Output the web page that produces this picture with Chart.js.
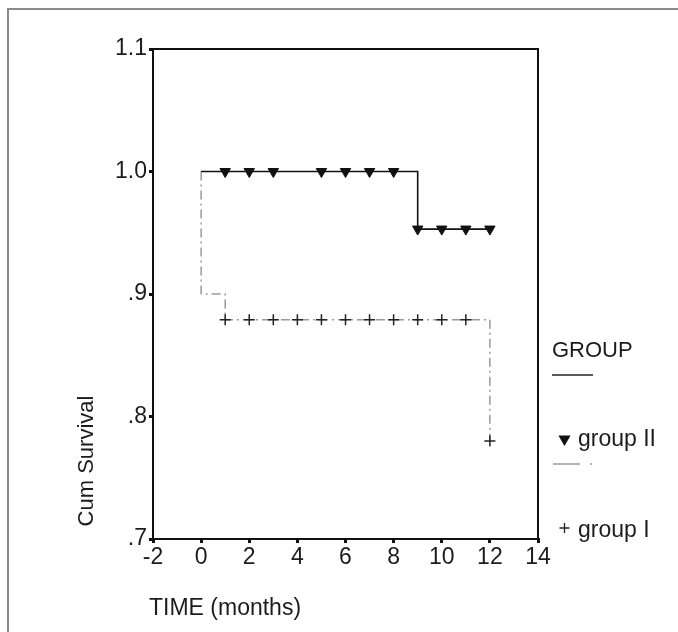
<!DOCTYPE html>
<html><head><meta charset="utf-8">
<script src="https://cdn.jsdelivr.net/npm/chart.js@4/dist/chart.umd.min.js"></script>
<style>html,body{margin:0;padding:0;background:#fff;}#wrap{position:relative;width:678px;height:632px;}</style>
</head><body><div id="wrap"><canvas id="c" width="678" height="632"></canvas></div>
<script>
// ---- data ----
const xTicks = [-2, 0, 2, 4, 6, 8, 10, 12, 14];
const yTicks = [0.7, 0.8, 0.9, 1.0, 1.1];
const groupIITime = [0, 9, 12];
const groupIISurv = [1.0, 0.953, 0.953];
const groupITime = [0, 0, 1, 12];
const groupISurv = [1.0, 0.9, 0.879, 0.78];
const groupIICensTime = [1, 2, 3, 5, 6, 7, 8, 9, 10, 11, 12];
const groupIICensSurv = [1.0, 1.0, 1.0, 1.0, 1.0, 1.0, 1.0, 0.953, 0.953, 0.953, 0.953];
const groupICensTime = [1, 2, 3, 4, 5, 6, 7, 8, 9, 10, 11, 12];
const groupICensSurv = [0.879, 0.879, 0.879, 0.879, 0.879, 0.879, 0.879, 0.879, 0.879, 0.879, 0.879, 0.78];
const legendTitle = 'GROUP';
const seriesNames = ['group II', 'group I'];
const xTitle = 'TIME (months)';
const yTitle = 'Cum Survival';

const FONT = '"Liberation Sans Narrow", "Liberation Sans", Arial, sans-serif';
const TXT = '#1c1c1c';
const pts = (xs, ys) => xs.map((x, i) => ({x: x, y: ys[i]}));

const decor = {
  id: 'decor',
  beforeDraw(chart) {
    const ctx = chart.ctx;
    ctx.save();
    ctx.fillStyle = '#fff';
    ctx.fillRect(0, 0, chart.width, chart.height);
    ctx.strokeStyle = '#8a8a8a';
    ctx.lineWidth = 2;
    ctx.strokeRect(8, 9, 700, 700);
    ctx.restore();
  },
  afterDraw(chart) {
    const ctx = chart.ctx, a = chart.chartArea;
    ctx.save();
    // plot frame (top & right)
    ctx.strokeStyle = '#111';
    ctx.lineWidth = 2;
    ctx.beginPath();
    ctx.moveTo(a.left, a.top); ctx.lineTo(a.right, a.top); ctx.lineTo(a.right, a.bottom);
    ctx.stroke();
    // axis titles
    ctx.fillStyle = TXT;
    ctx.font = '23px ' + FONT;
    ctx.textAlign = 'left'; ctx.textBaseline = 'alphabetic';
    ctx.fillText(xTitle, 149, 615);
    ctx.save();
    ctx.translate(93, 461);
    ctx.rotate(-Math.PI / 2);
    ctx.textAlign = 'center';
    ctx.font = '22px ' + FONT;
    ctx.fillText(yTitle, 0, 0);
    ctx.restore();
    // legend
    ctx.font = '22px ' + FONT;
    ctx.fillText(legendTitle, 552, 357);
    ctx.strokeStyle = '#222'; ctx.lineWidth = 1.5;
    ctx.beginPath(); ctx.moveTo(552, 375); ctx.lineTo(593, 375); ctx.stroke();
    ctx.fillStyle = '#111'; ctx.strokeStyle = '#111';
    Chart.helpers.drawPoint(ctx, {pointStyle: 'triangle', rotation: 180, radius: 5.5, borderWidth: 1}, 564.5, 439);
    ctx.fillStyle = TXT;
    ctx.font = '23px ' + FONT;
    ctx.fillText(seriesNames[0], 578, 446);
    ctx.strokeStyle = '#9a9a9a'; ctx.lineWidth = 1.5;
    ctx.setLineDash([27, 10, 2, 10]);
    ctx.beginPath(); ctx.moveTo(553, 464); ctx.lineTo(593, 464); ctx.stroke();
    ctx.setLineDash([]);
    ctx.strokeStyle = '#222'; ctx.lineWidth = 1.3;
    Chart.helpers.drawPoint(ctx, {pointStyle: 'cross', radius: 5, borderWidth: 1.3}, 564.5, 528);
    ctx.fillStyle = TXT;
    ctx.fillText(seriesNames[1], 578, 537);
    ctx.restore();
  }
};

const fmtY = v => { const s = Number(v).toFixed(1); return s.startsWith('0') ? s.slice(1) : s; };

new Chart(document.getElementById('c'), {
  type: 'scatter',
  data: {
    datasets: [
      {label: seriesNames[0] + ' censored', data: pts(groupIICensTime, groupIICensSurv), showLine: false,
       pointStyle: 'triangle', rotation: 180, pointRadius: 6, pointBackgroundColor: '#111', pointBorderColor: '#111', order: 0},
      {label: seriesNames[1] + ' censored', data: pts(groupICensTime, groupICensSurv), showLine: false,
       pointStyle: 'cross', pointRadius: 5.5, pointBorderWidth: 1.5, pointBorderColor: '#222', order: 0},
      {label: seriesNames[0], data: pts(groupIITime, groupIISurv), showLine: true, stepped: true,
       borderColor: '#111', borderWidth: 1.6, pointRadius: 0, order: 1},
      {label: seriesNames[1], data: pts(groupITime, groupISurv), showLine: true, stepped: true,
       borderColor: '#9a9a9a', borderWidth: 1.5, borderDash: [9, 4, 2, 4], pointRadius: 0, order: 1}
    ]
  },
  options: {
    responsive: false,
    animation: false,
    layout: {padding: {left: 0, right: 140, top: 49, bottom: 0}},
    plugins: {legend: {display: false}, tooltip: {enabled: false}},
    scales: {
      x: {
        type: 'linear', min: -2, max: 14,
        afterBuildTicks: s => { s.ticks = xTicks.map(v => ({value: v})); },
        afterFit: s => { s.height = 93; },
        ticks: {font: {family: FONT, size: 23}, color: TXT, padding: 1},
        grid: {drawOnChartArea: false, tickLength: 4, color: '#111', lineWidth: 3},
        border: {display: true, color: '#111', width: 2}
      },
      y: {
        type: 'linear', min: 0.7, max: 1.1,
        afterBuildTicks: s => { s.ticks = yTicks.map(v => ({value: v})); },
        afterFit: s => { s.width = 153; },
        ticks: {font: {family: FONT, size: 23}, color: TXT, padding: 2, callback: v => fmtY(v)},
        grid: {drawOnChartArea: false, tickLength: 4, color: '#111', lineWidth: 3},
        border: {display: true, color: '#111', width: 2}
      }
    }
  },
  plugins: [decor]
});
</script>
</body></html>
